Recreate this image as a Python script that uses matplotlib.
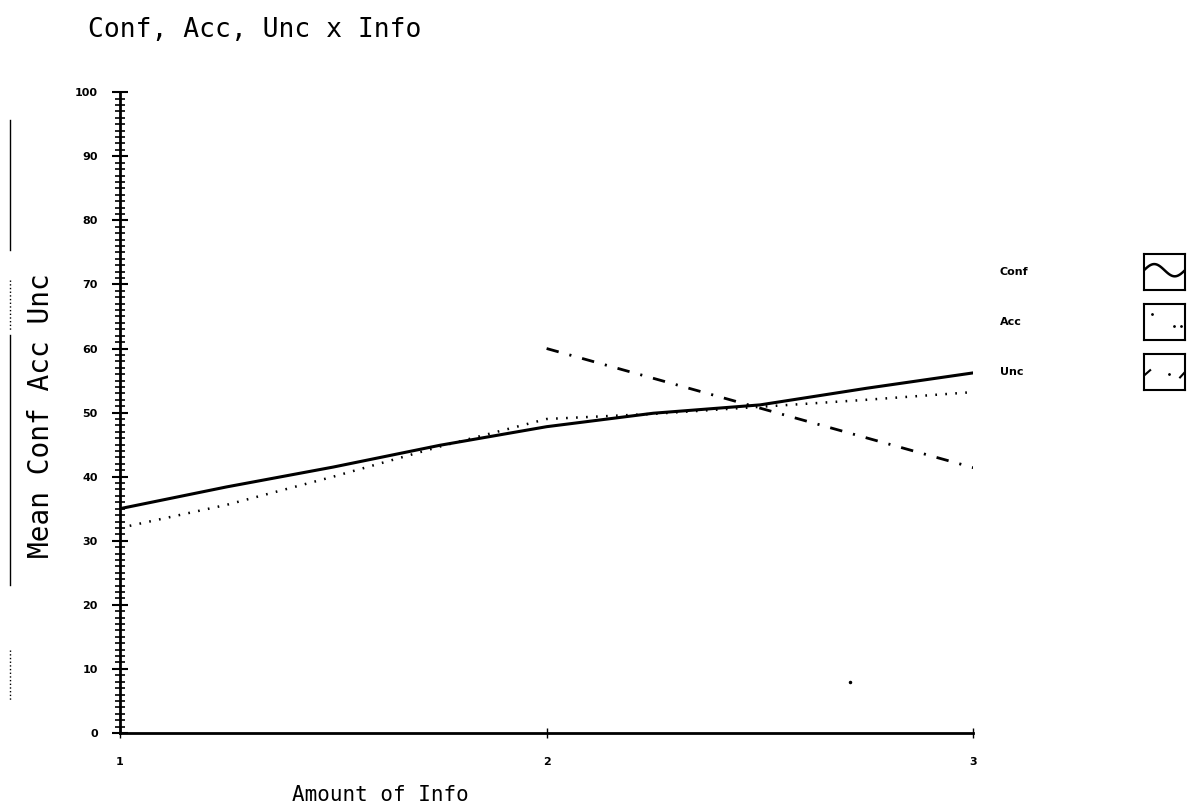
import numpy as np
import matplotlib.pyplot as plt
from matplotlib.ticker import MultipleLocator
from matplotlib.lines import Line2D

plt.rcParams['lines.scale_dashes'] = False

# values
info = [1, 1.25, 1.5, 1.75, 2, 2.25, 2.5, 2.75, 3]
conf = [35.0, 38.4, 41.5, 44.9, 47.8, 49.9, 51.2, 53.8, 56.2]
acc = [32.0, 35.6, 40.0, 44.7, 49.0, 49.8, 50.9, 52.0, 53.2]
unc_x = [2, 3]
unc = [60.0, 41.4]
stray_x = [2.71]
stray_y = [8.0]

labels = ["Conf", "Acc", "Unc"]
mono = "DejaVu Sans Mono"

fig = plt.figure(figsize=(11.87, 8.09), dpi=100)
ax = fig.add_axes([0.101, 0.094, 0.719, 0.792])

ax.plot(info, conf, color='black', lw=2.2, ls='-')
ax.plot(info, acc, color='black', lw=1.8, ls=(0, (1.2, 6)))
ax.plot(unc_x, unc, color='black', lw=2.0, ls=(0, (9, 8, 1.5, 8)))
ax.plot(stray_x, stray_y, 'k.', ms=3)

ax.set_xlim(1, 3)
ax.set_ylim(0, 100)
ax.spines['top'].set_visible(False)
ax.spines['right'].set_visible(False)
ax.spines['left'].set_linewidth(2)
ax.spines['bottom'].set_linewidth(2)
ax.set_xticks([1, 2, 3])
ax.set_xticklabels(['1', '2', '3'])
ax.yaxis.set_major_locator(MultipleLocator(10))
ax.yaxis.set_minor_locator(MultipleLocator(1))
ax.tick_params(axis='y', which='major', direction='inout', length=12, width=1.5,
               labelsize=8, pad=10)
ax.tick_params(axis='y', which='minor', direction='inout', length=7, width=1.2)
ax.tick_params(axis='x', which='major', direction='inout', length=7, width=1,
               labelsize=8, pad=14)
for t in ax.get_xticklabels() + ax.get_yticklabels():
    t.set_fontweight('bold')

fig.text(380 / 1187, 1 - 795 / 809, "Amount of Info", fontsize=15,
         family=mono, ha='center', va='center')
fig.text(41 / 1187, 1 - 416 / 809, "Mean Conf Acc Unc", fontsize=20,
         family=mono, rotation=90, ha='center', va='center')
fig.text(88 / 1187, 1 - 30 / 809, "Conf, Acc, Unc x Info", fontsize=19,
         family=mono, va='center', ha='left')

# scan marks along the left edge
for y0, y1, st in [(120, 250, '-'), (280, 330, ':'), (335, 585, '-'), (650, 700, ':')]:
    fig.add_artist(Line2D([10 / 1187, 10 / 1187], [1 - y0 / 809, 1 - y1 / 809],
                          color='black', lw=1, ls=st))

# legend: labels plus boxed line samples
ys = [272, 322, 372]
for lab, y, i in zip(labels, ys, range(3)):
    fig.text(1000 / 1187, 1 - y / 809, lab, fontsize=8, fontweight='bold',
             va='center')
    bax = fig.add_axes([1144 / 1187, 1 - (y + 18) / 809, 41 / 1187, 36 / 809])
    bax.set_xticks([])
    bax.set_yticks([])
    for s in bax.spines.values():
        s.set_linewidth(1.5)
    bax.set_xlim(0, 1)
    bax.set_ylim(0, 1)
    sx = np.linspace(0, 1, 40)
    if i == 0:
        bax.plot(sx, 0.55 + 0.17 * np.sin(sx * 2 * np.pi), 'k-', lw=1.8)
    elif i == 1:
        bax.plot([0.2, 0.72, 0.9], [0.72, 0.4, 0.4], 'k.', ms=2)
    else:
        bax.plot([0.0, 0.15], [0.4, 0.55], 'k-', lw=1.5)
        bax.plot([0.6], [0.45], 'k.', ms=2)
        bax.plot([0.88, 1.0], [0.35, 0.5], 'k-', lw=1.5)

plt.savefig("out.png", dpi=100)
